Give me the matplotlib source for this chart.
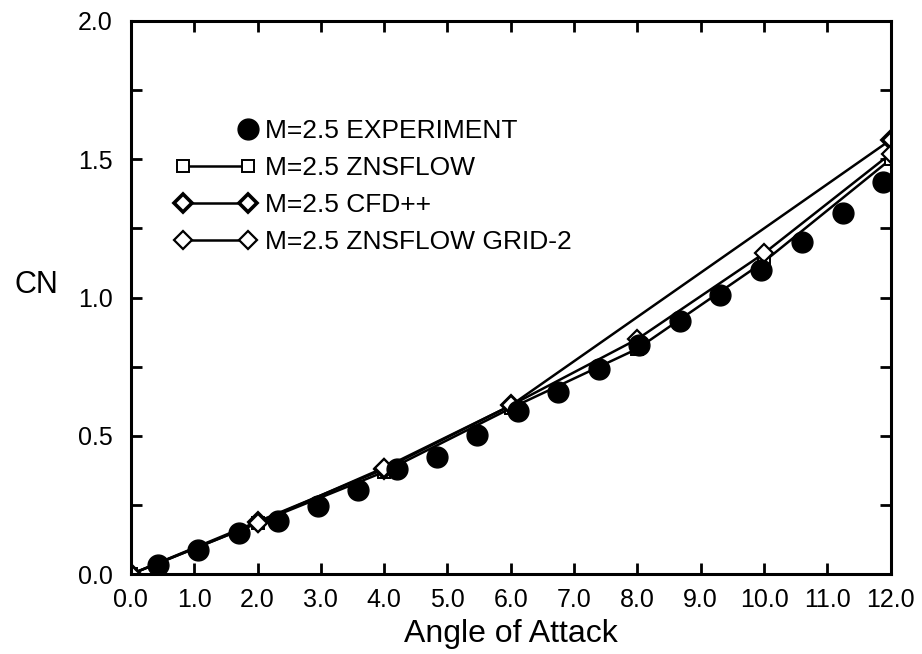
import numpy as np
import matplotlib
matplotlib.use("Agg")
import matplotlib.pyplot as plt
from matplotlib.legend_handler import HandlerLine2D

plt.rcParams['font.family'] = ['Liberation Sans', 'DejaVu Sans']

# M=2.5 experiment
exp_alpha = [0.42, 1.06, 1.70, 2.32, 2.95, 3.58, 4.21, 4.84, 5.47, 6.11,
             6.74, 7.39, 8.03, 8.67, 9.31, 9.96, 10.60, 11.24, 11.88]
exp_cn = [0.033, 0.087, 0.148, 0.194, 0.247, 0.303, 0.382, 0.424, 0.505, 0.590,
          0.657, 0.742, 0.827, 0.914, 1.008, 1.099, 1.202, 1.305, 1.417]

# ZNSFLOW
zns_alpha = [0.0, 2.0, 4.0, 6.0, 8.0, 10.0, 12.0]
zns_cn = [0.0, 0.185, 0.37, 0.60, 0.815, 1.13, 1.50]

# CFD++
cfd_alpha = [0.0, 2.0, 4.0, 6.0, 12.0]
cfd_cn = [0.0, 0.19, 0.38, 0.61, 1.57]

# ZNSFLOW grid-2
g2_alpha = [0.0, 2.0, 4.0, 6.0, 8.0, 10.0, 12.0]
g2_cn = [0.0, 0.185, 0.385, 0.61, 0.85, 1.16, 1.52]

xticks = np.arange(0, 13, 1.0)
yticks = np.arange(0, 2.01, 0.25)


class RightMarker(HandlerLine2D):
    # one marker at the right end of the handle
    def get_xdata(self, legend, xdescent, ydescent, width, height, fontsize):
        pad = self._marker_pad * fontsize
        xd = [-xdescent + width - pad]
        return xd, xd


fig = plt.figure(figsize=(9.22, 6.54), dpi=100)
ax = fig.add_axes([0.142, 0.122, 0.824, 0.846])

l_zns, = ax.plot(zns_alpha, zns_cn, color='black', lw=1.8, marker='s',
                 ms=8, mfc='white', mec='black', mew=1.4,
                 label='M=2.5 ZNSFLOW')
l_cfd, = ax.plot(cfd_alpha, cfd_cn, color='black', lw=1.8, marker='D',
                 ms=9, mfc='white', mec='black', mew=2.6,
                 label='M=2.5 CFD++')
l_g2, = ax.plot(g2_alpha, g2_cn, color='black', lw=1.8, marker='D',
                ms=9, mfc='white', mec='black', mew=1.6,
                label='M=2.5 ZNSFLOW GRID-2')
l_exp, = ax.plot(exp_alpha, exp_cn, linestyle='none', marker='o', ms=15,
                 color='black', label='M=2.5 EXPERIMENT', zorder=5)

ax.set_xlim(0, 12)
ax.set_ylim(0, 2.0)
ax.set_xticks(xticks)
ax.set_xticklabels(['%.1f' % v for v in xticks])
ax.set_yticks(yticks)
ax.set_yticklabels(['%.1f' % v if i % 2 == 0 else '' for i, v in enumerate(yticks)])
ax.tick_params(direction='in', top=True, right=True, length=8, width=2,
               labelsize=18)
ax.tick_params(axis='x', pad=10)
ax.tick_params(axis='y', pad=13)
for s in ax.spines.values():
    s.set_linewidth(2.2)

ax.set_xlabel('Angle of Attack', fontsize=23, va='center')
ax.xaxis.set_label_coords(0.5, -0.108)
ax.set_ylabel('CN', fontsize=22, rotation=0, ha='right', va='center')
ax.yaxis.set_label_coords(-0.096, 0.522)

leg = ax.legend(handles=[l_exp, l_zns, l_cfd, l_g2],
                handler_map={l_exp: RightMarker()},
                loc='upper left', bbox_to_anchor=(0.058, 0.823),
                frameon=False, fontsize=19, numpoints=2,
                handlelength=3.07, handletextpad=0.34, labelspacing=0.5,
                borderaxespad=0, borderpad=0)

fig.savefig('out.png', dpi=100)
